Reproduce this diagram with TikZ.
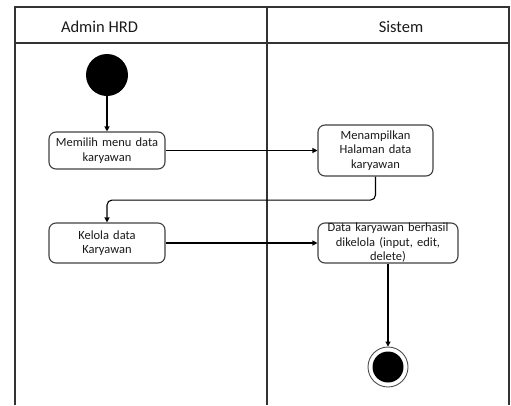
\documentclass[tikz,border=0pt]{standalone}
\usepackage{fontspec}
\setmainfont{Carlito}
\usetikzlibrary{arrows.meta}
\begin{document}
\begin{tikzpicture}[x=1pt,y=-1pt,
  lane/.style={draw=black!80,line width=1.4pt},
  lanetitle/.style={font=\fontsize{16.5}{19}\selectfont,text=black!90},
  act/.style={draw=black!75,line width=1.1pt,rounded corners=7pt,
    inner sep=0pt,align=center,font=\fontsize{12.5}{14.5}\selectfont,text=black!90},
  flow/.style={draw=black,line width=1.1pt,-{Triangle[width=5pt,length=5pt]}},
  initial/.style={circle,fill=black,minimum size=42pt,inner sep=0pt},
  final/.style={circle,draw=black!70,line width=0.9pt,fill=white,minimum size=40pt,inner sep=0pt},
]
\useasboundingbox (0,0) rectangle (511,405);

% swimlane frame
\draw[lane] (15,405) -- (15,7) -- (509,7) -- (509,405);
\draw[lane] (15,43) -- (509,43);
\draw[lane] (267,7) -- (267,405);
\node[lanetitle] (laneA) at (99.5,26.5) {Admin HRD};
\node[lanetitle] (laneS) at (401,26.5) {Sistem};

% activities
\node[initial] (start) at (107,75) {};
\node[act,minimum width=116pt,minimum height=37pt,text width=110pt] (memilih) at (107,150.5) {Memilih menu data\\karyawan};
\node[act,minimum width=115pt,minimum height=51pt,text width=110pt] (tampil) at (375.5,150.5) {Menampilkan\\Halaman data\\karyawan};
\node[act,minimum width=116pt,minimum height=40pt,text width=110pt] (kelola) at (107,243) {Kelola data\\Karyawan};
\node[act,minimum width=140pt,minimum height=40pt,text width=136pt] (hasil) at (388,243) {Data karyawan berhasil\\dikelola (input, edit,\\delete)};
\node[final] (end) at (388,367) {};
\node[circle,fill=black,minimum size=31pt,inner sep=0pt] (endcore) at (end) {};

% control flow
\draw[flow] (start) -- (memilih);
\draw[flow] (memilih) -- (tampil);
\draw[flow,rounded corners=5pt] (tampil.south) -- ++(0,23.5) -| (kelola.north);
\draw[flow] (kelola) -- (hasil);
\draw[flow] (hasil.south) -- (end.north);
\end{tikzpicture}
\end{document}
